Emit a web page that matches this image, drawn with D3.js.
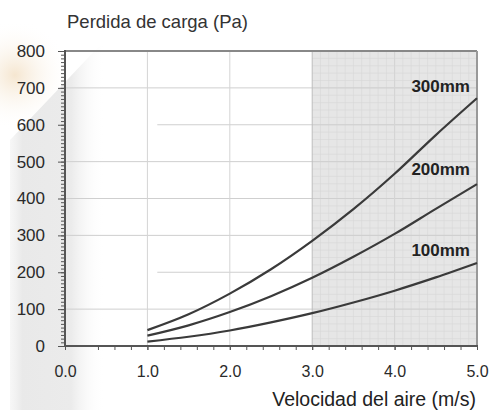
<!DOCTYPE html>
<html><head><meta charset="utf-8">
<script src="https://cdn.jsdelivr.net/npm/d3@7"></script>
<style>html,body{margin:0;padding:0;background:#fff;}svg{display:block;font-family:"Liberation Sans",Arial,sans-serif;}</style>
</head><body>
<svg id="c" width="491" height="410"></svg>
<script>
const velocity = [1.0, 1.5, 2.0, 2.5, 3.0, 3.5, 4.0, 4.5, 5.0];
const d300 = [43, 86, 142, 208, 285, 371, 467, 572, 672];
const d200 = [28, 56, 92, 135, 185, 242, 304, 372, 439];
const d100 = [12, 25, 42, 64, 89, 118, 150, 186, 225];
const seriesNames = ["300mm", "200mm", "100mm"];
const xTicks = [0, 1, 2, 3, 4, 5];
const yTicks = [0, 100, 200, 300, 400, 500, 600, 700, 800];
const shadeRange = [3, 5];

const svg = d3.select("#c");
const m = {l: 65, r: 477, t: 51, b: 346};
const x = d3.scaleLinear().domain([0, 5]).range([m.l, m.r]);
const y = d3.scaleLinear().domain([0, 800]).range([m.b, m.t]);

const defs = svg.append("defs");
const g2 = defs.append("radialGradient").attr("id","warm");
g2.append("stop").attr("offset","0").attr("stop-color","#f5e6d0");
g2.append("stop").attr("offset","1").attr("stop-color","#ffffff").attr("stop-opacity",0);
svg.append("circle").attr("cx",15).attr("cy",75).attr("r",55).attr("fill","url(#warm)");

// plot white background
svg.append("rect").attr("x", m.l).attr("y", m.t).attr("width", x(shadeRange[0]) - m.l).attr("height", m.b - m.t).attr("fill","#fff");

// faint watermark band
const g1 = defs.append("linearGradient").attr("id","band").attr("gradientUnits","userSpaceOnUse")
  .attr("x1", 8).attr("x2", 105).attr("y1", 0).attr("y2", 0);
g1.append("stop").attr("offset","0").attr("stop-color","#f2f2f2").attr("stop-opacity",0.5);
g1.append("stop").attr("offset","0.15").attr("stop-color","#e9e9e9");
g1.append("stop").attr("offset","0.65").attr("stop-color","#ebebeb");
g1.append("stop").attr("offset","1").attr("stop-color","#ffffff").attr("stop-opacity",0);
svg.append("path").attr("d","M10,410 L10,140 L105,40 L105,410 Z").attr("fill","url(#band)");

// shaded region
svg.append("rect").attr("x", x(shadeRange[0])).attr("y", m.t)
  .attr("width", x(shadeRange[1]) - x(shadeRange[0])).attr("height", m.b - m.t).attr("fill","#e6e6e6");
const fine = svg.append("g").attr("stroke","#d6d6d6").attr("stroke-width",0.6);
d3.range(shadeRange[0] + 0.1, shadeRange[1], 0.1).forEach(v => {
  fine.append("line").attr("x1", x(v)).attr("x2", x(v)).attr("y1", m.t).attr("y2", m.b);
});
d3.range(20, 800, 20).forEach(v => {
  fine.append("line").attr("x1", x(shadeRange[0])).attr("x2", x(shadeRange[1])).attr("y1", y(v)).attr("y2", y(v));
});

// major gridlines
const grid = svg.append("g").attr("stroke","#cfcfcf").attr("stroke-width",1);
yTicks.slice(1, -1).forEach(v => {
  const start = (v === 600 || v === 200) ? x(1.12) : m.l;
  grid.append("line").attr("x1", start).attr("x2", m.r).attr("y1", y(v)).attr("y2", y(v));
});
xTicks.slice(1, -1).forEach(v => {
  grid.append("line").attr("x1", x(v)).attr("x2", x(v)).attr("y1", m.t).attr("y2", m.b)
    .attr("stroke", v === 3 ? "#bdbdbd" : "#d4d4d4");
});

// frame
svg.append("line").attr("x1", m.l).attr("x2", m.r).attr("y1", m.t).attr("y2", m.t).attr("stroke","#888").attr("stroke-width",2);
svg.append("line").attr("x1", m.r).attr("x2", m.r).attr("y1", m.t).attr("y2", m.b).attr("stroke","#999").attr("stroke-width",2);

// y axis
const yAxis = svg.append("g").attr("transform", `translate(${m.l},0)`)
  .call(d3.axisLeft(y).tickValues(d3.range(0, 801, 10)).tickSize(4).tickFormat(""));
yAxis.selectAll("line").attr("stroke","#555");
yAxis.select(".domain").remove();
const yMaj = svg.append("g").attr("transform", `translate(${m.l},0)`)
  .call(d3.axisLeft(y).tickValues(yTicks).tickSize(7).tickPadding(13).tickFormat(d3.format("d")));
yMaj.select(".domain").remove();
yMaj.selectAll("line").attr("stroke","#555");
yMaj.selectAll("text").attr("font-size", 17).attr("fill","#2a2a2a").attr("font-family","Liberation Sans, Arial, sans-serif");
svg.append("line").attr("x1", m.l).attr("x2", m.l).attr("y1", m.t - 1).attr("y2", m.b + 1).attr("stroke","#555").attr("stroke-width",2);

// x axis
const xMin = svg.append("g").attr("transform", `translate(0,${m.b})`)
  .call(d3.axisBottom(x).tickValues(d3.range(0.4, 5.01, 0.2)).tickSize(4).tickFormat(""));
xMin.select(".domain").remove();
xMin.selectAll("line").attr("stroke","#555");
const xMaj = svg.append("g").attr("transform", `translate(0,${m.b})`)
  .call(d3.axisBottom(x).tickValues(xTicks).tickSize(4).tickPadding(16).tickFormat(d3.format(".1f")));
xMaj.select(".domain").remove();
xMaj.selectAll("line").attr("stroke","#555");
xMaj.selectAll("text").attr("font-size", 16).attr("fill","#2a2a2a").attr("font-family","Liberation Sans, Arial, sans-serif");
svg.append("line").attr("x1", m.l - 1).attr("x2", m.r + 1).attr("y1", m.b).attr("y2", m.b).attr("stroke","#555").attr("stroke-width",2);

// curves
const line = d3.line().x((d, i) => x(velocity[i])).y(d => y(d)).curve(d3.curveMonotoneX);
[d300, d200, d100].forEach(s => {
  svg.append("path").attr("d", line(s)).attr("fill","none").attr("stroke","#3a3a3a").attr("stroke-width",2.2);
});

// labels
const labelY = [92, 175, 256];
seriesNames.forEach((n, i) => {
  svg.append("text").attr("x", 470).attr("y", labelY[i]).attr("text-anchor","end")
    .attr("font-size", 17).attr("font-weight","bold").attr("fill","#222").text(n);
});

// titles
svg.append("text").attr("x", 67).attr("y", 28).attr("font-size", 18.5).attr("fill","#333").text("Perdida de carga (Pa)");
svg.append("text").attr("x", 476).attr("y", 406).attr("text-anchor","end").attr("font-size", 19.5).attr("fill","#222").text("Velocidad del aire (m/s)");
</script>
</body></html>
